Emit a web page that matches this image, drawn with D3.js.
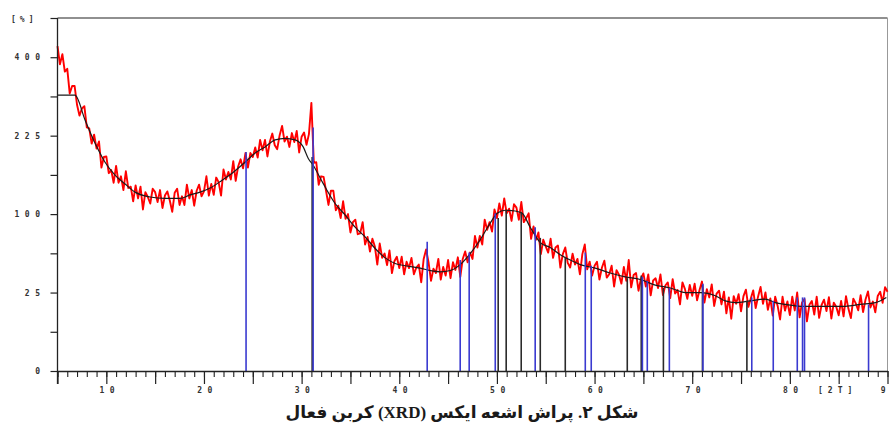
<!DOCTYPE html>
<html><head><meta charset="utf-8">
<script src="https://cdn.jsdelivr.net/npm/d3@7"></script>
<style>
html,body{margin:0;padding:0;background:#fff;overflow:hidden;}
svg{display:block;}
</style></head>
<body>
<svg id="chart" width="889" height="427"></svg>
<script>
// ---- data ----
const redStart = 5, redStep = 0.25;   // 2-theta of first sample and sampling step
const redCounts = [
429,382,408,364,371,313,330,330,288,265,280,285,241,239,210,227,201,214,168,186,187,
159,164,144,171,144,154,133,162,136,138,117,140,121,138,106,130,123,114,135,130,
116,133,108,125,131,118,103,129,135,112,124,112,141,121,133,111,132,141,124,131,
154,125,142,126,152,145,125,165,149,161,149,179,147,170,182,167,193,168,193,186,
203,185,217,198,217,187,214,229,207,200,226,244,214,223,204,230,213,234,194,223,
231,208,228,292,176,177,141,154,153,132,112,132,132,105,111,95,117,94,100,78,
90,93,76,77,90,65,73,58,71,63,46,66,52,56,45.5,59,39,49,53,43,
53,38,48.5,43,52,38,43.5,46,32,51,60,48,33,42.5,39,51,34,44,37,50,
35,48,41.5,52.5,36,51,58,48,57,51,74,62,74,65,93,81,90,79,106,95,
114,98,121,101,107,91.5,113,108.5,93,116,90,95,101,71,85,70,78,55.5,70,63,
57,71,52,62,64,43.5,55.5,62,47.5,43.5,56,46,51,38,55.5,65,42,48.6,37,45,
48.4,34,43.3,49.4,35.4,38,45,29,41.3,37.6,31,44,33,50,28.4,37.4,39,26.2,34.7,38.7,
28.9,37.9,23.3,33.3,34.9,28,37.8,23.5,29.7,31.9,21.6,34.3,24.4,26.6,18,31.9,27.4,21.2,30.1,23,
30.9,20.3,26.7,32.5,19,27.2,22,30.5,17.2,24.4,26.2,18,25.6,13.5,22,11.1,22.8,18.4,24,14.5,
22.8,26.9,16.7,21.3,26.4,16.1,22.6,28.7,18.3,25.1,15.2,21.4,12.5,22.4,17.2,10.8,22.4,14.8,19.6,12.7,
22.4,14.9,25,11.7,19.1,21.1,10,17.8,19.9,12.9,22.4,11.5,17.7,20.7,14.6,22.1,11.2,19,16.8,12.6,
19.9,12.1,22.8,15.7,11.4,21.3,18.6,15,23.3,14.1,20.8,25.7,16.4,19.6,14,22.9,25.5,18.9,28.6,25.5
];
const bgTheta = [5,6.79,7.82,8.84,9.87,10.89,11.92,12.94,14.48,16.0,17.55,18.58,19.6,20.63,21.86,22.88,24.21,25.24,26.26,27.29,28.31,29.34,30.16,30.67,31.18,32.2,33.43,34.45,35.48,36.5,37.53,38.56,39.58,40.61,42.14,43.17,44.19,45.22,46.24,47.27,48.29,49.32,50.03,50.85,51.87,52.59,53.41,54.44,55.46,56.49,57.51,58.53,60.07,61.6,63.14,64.68,66.22,67.75,69.29,70.83,72.37,73.39,74.42,75.95,77.49,78.51,79.54,81.08,82.61,84.15,85.69,87.22,88.76,89.88];
const bgCounts = [309,309,256,211,177,156,142,130,123,121,121,126,130,136,148,159,177,193,204,217,220,217,204,184,172,143,114,99,84,73,61,52,47,45,43,41,40,41,46,56,70,89,101,105,104,101,84,67,62,55,50,46,43,39,36,34,30,28,25,25,23,20,19,20,21,19,18,17,17,17,17,18,19,22];
const blueTheta = [24.31,31.18,42.86,46.24,47.16,49.83,53.92,59.05,59.66,64.9,65.4,67.66,71.1,76.1,78.3,80.76,81.3,81.5,88.06];
const blueCounts = [195,241,68,50,57,101,84,57,45,36,33,28,31,22,20,22,22,22,18];
const blackTheta = [31.08,50.13,50.95,52.49,54.44,57.0,63.35,64.78,67.05,71.05,75.6];
const blackCounts = [186,95,105,103,72,53,35,37,28,30,20];
const yTickValues = [0,6.25,25,56.25,100,156.25,225,306.25,400,506.25];
const yTickLabels = {0:"0",25:"25",100:"100",225:"225",400:"400"};
const xMajorTicks = [5,10,15,20,25,30,35,40,45,50,55,60,65,70,75,80,85,90];
const xLabelTicks = [10,20,30,40,50,60,70,80,90];
const yUnitLabel = "[%]";
const xUnitLabel = "[2T]";
const caption = "شکل ۲. پراش اشعه ایکس (XRD) کربن فعال";

// ---- layout ----
const svg = d3.select("#chart");
const x = d3.scaleLinear().domain([5, 90]).range([57.5, 887.5]);
const y = d3.scaleSqrt().domain([0, 506.25]).range([371, 18]);
const tickFont = "'DejaVu Sans Mono', monospace";

// frame: top & right
svg.append("line").attr("x1", x(5)).attr("x2", x(90)).attr("y1", y(506.25)).attr("y2", y(506.25))
  .attr("stroke", "#222").attr("stroke-width", 1.2);
svg.append("line").attr("x1", x(90)).attr("x2", x(90)).attr("y1", y(506.25)).attr("y2", y(0))
  .attr("stroke", "#999").attr("stroke-width", 1);

// red measured pattern
const redData = redCounts.map((c, i) => [redStart + i * redStep, c]);
svg.append("path").datum(redData)
  .attr("fill", "none").attr("stroke", "#ff0000").attr("stroke-width", 1.9)
  .attr("stroke-linejoin", "round")
  .attr("d", d3.line().x(d => x(d[0])).y(d => y(d[1])));

// black background curve
const bgData = bgTheta.map((t, i) => [t, bgCounts[i]]);
svg.append("path").datum(bgData)
  .attr("fill", "none").attr("stroke", "#1a1a1a").attr("stroke-width", 1.2)
  .attr("d", d3.line().curve(d3.curveMonotoneX).x(d => x(d[0])).y(d => y(d[1])));

// reference sticks
function sticks(thetas, counts, color) {
  svg.append("g").selectAll("line").data(thetas.map((t, i) => [t, counts[i]])).join("line")
    .attr("x1", d => x(d[0])).attr("x2", d => x(d[0]))
    .attr("y1", y(0)).attr("y2", d => y(d[1]))
    .attr("stroke", color).attr("stroke-width", 1.6);
}
sticks(blackTheta, blackCounts, "#2a2a2a");
sticks(blueTheta, blueCounts, "#3a3ad0");

// y axis
const yAxis = svg.append("g").attr("transform", `translate(${x(5)},0)`)
  .call(d3.axisLeft(y).tickValues(yTickValues).tickSize(7).tickSizeOuter(0)
    .tickFormat(d => yTickLabels[d] !== undefined ? yTickLabels[d] : ""));
yAxis.select(".domain").remove();
yAxis.append("line").attr("x1", 0).attr("x2", 0).attr("y1", y(506.25)).attr("y2", y(0) + 13)
  .attr("stroke", "#222").attr("stroke-width", 1.3);
yAxis.selectAll(".tick line").attr("stroke", "#222").attr("stroke-width", 1.2);
yAxis.selectAll(".tick text").attr("font-family", tickFont).attr("font-size", 8)
  .attr("font-weight", "bold").attr("fill", "#333").attr("letter-spacing", 5.5).attr("x", -12);

// x axis minor
const xMinor = svg.append("g").attr("transform", `translate(0,${y(0)})`)
  .call(d3.axisBottom(x).tickValues(d3.range(5, 91)).tickSize(6).tickSizeOuter(0).tickFormat(""));
xMinor.select(".domain").attr("stroke", "#222").attr("stroke-width", 1.3);
xMinor.selectAll(".tick line").attr("stroke", "#222").attr("stroke-width", 1.1);

// x axis major
const xMajor = svg.append("g").attr("transform", `translate(0,${y(0)})`)
  .call(d3.axisBottom(x).tickValues(xMajorTicks).tickSize(13).tickSizeOuter(0)
    .tickFormat(d => xLabelTicks.includes(d) ? String(d) : ""));
xMajor.select(".domain").remove();
xMajor.selectAll(".tick line").attr("stroke", "#222").attr("stroke-width", 1.2);
xMajor.selectAll(".tick text").attr("font-family", tickFont).attr("font-size", 8)
  .attr("font-weight", "bold").attr("fill", "#333").attr("letter-spacing", 5.5).attr("dx", 3);

// unit labels
svg.append("text").attr("x", 11).attr("y", 22).text(yUnitLabel)
  .attr("font-family", tickFont).attr("font-size", 8).attr("font-weight", "bold")
  .attr("fill", "#333").attr("letter-spacing", 4);
svg.append("text").attr("x", 818).attr("y", 393).text(xUnitLabel)
  .attr("font-family", tickFont).attr("font-size", 8).attr("font-weight", "bold")
  .attr("fill", "#333").attr("letter-spacing", 5);

// caption
svg.append("text").attr("x", 462).attr("y", 418).attr("text-anchor", "middle")
  .attr("direction", "rtl")
  .attr("font-family", "'Liberation Serif', 'DejaVu Sans', sans-serif")
  .attr("font-weight", "bold").attr("font-size", 17).attr("fill", "#1a1a1a")
  .text(caption);
</script>
</body></html>
